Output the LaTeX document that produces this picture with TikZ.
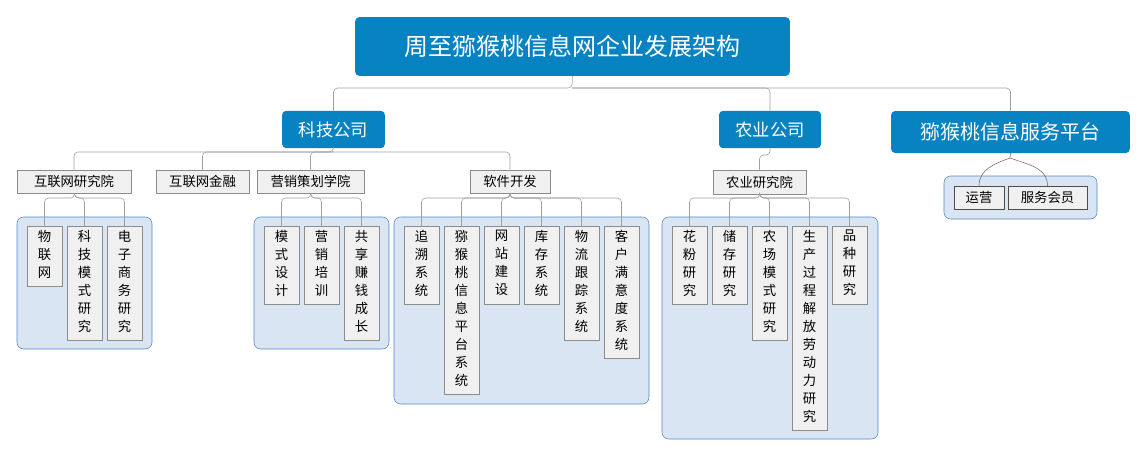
\documentclass[tikz,border=0pt]{standalone}
\usepackage{fontspec}
\setmainfont{Noto Sans CJK SC}
\begin{document}
\begin{tikzpicture}[x=0.75pt,y=-0.75pt,
 top/.style={fill=topblue,text=white,rounded corners=3pt,inner sep=0pt},
 mid/.style={fill=white!94!black,draw=gray!90,inner sep=0pt,font=\fontsize{10}{12}\selectfont},
 leaf/.style={fill=white!94!black,draw=gray!90,anchor=north,minimum width=26.25pt,inner sep=0pt},
 lbl/.style={anchor=north,inner sep=0pt,yshift=-3pt,align=center,font=\fontsize{10}{13.5}\selectfont},
 grp/.style={fill=grpfill,draw=grpline,rounded corners=5pt},
 con/.style={draw=gray!75,rounded corners=3pt}]
\definecolor{topblue}{HTML}{0883C1}
\definecolor{grpfill}{HTML}{DAE5F3}
\definecolor{grpline}{HTML}{4F85C6}
\useasboundingbox (0,0) rectangle (1147,457);
% top nodes
\node[top,minimum width=326pt,minimum height=44pt,font=\fontsize{18}{20}\selectfont] (root) at (572.5,46.5) {周至猕猴桃信息网企业发展架构};
\node[top,minimum width=77pt,minimum height=28pt,font=\fontsize{13}{15}\selectfont] (kj) at (333.5,129.5) {科技公司};
\node[top,minimum width=76.5pt,minimum height=28pt,font=\fontsize{13}{15}\selectfont] (ny) at (770,129.5) {农业公司};
\node[top,minimum width=179pt,minimum height=31.5pt,font=\fontsize{15}{17}\selectfont] (pt) at (1010.5,132) {猕猴桃信息服务平台};
\draw[con] (root.south) -- (572,88) -| (kj.north);
\draw[con] (572,88) -| (ny.north);
\draw[con] (572,88) -| (pt.north);
% groups
\node[grp,minimum width=101.25pt,minimum height=99pt] (g1) at (84.5,283) {};
\node[grp,minimum width=101.25pt,minimum height=99pt] (g2) at (321.5,283) {};
\node[grp,minimum width=191.25pt,minimum height=140.25pt] (g3) at (521.5,310.5) {};
\node[grp,minimum width=162pt,minimum height=166.5pt] (g4) at (770,328) {};
\node[grp,minimum width=114.75pt,minimum height=32.25pt] (g5) at (1020.5,197.5) {};
% mid nodes
\node[mid,minimum width=85.5pt,minimum height=17.25pt] (m1) at (74,181.5) {互联网研究院};
\node[mid,minimum width=69.75pt,minimum height=17.25pt] (m2) at (202.5,181.5) {互联网金融};
\node[mid,minimum width=80.25pt,minimum height=17.25pt] (m3) at (310.5,181.5) {营销策划学院};
\node[mid,minimum width=60pt,minimum height=17.25pt] (m4) at (510,181.5) {软件开发};
\node[mid,minimum width=69.75pt,minimum height=18pt] (m5) at (759.5,182) {农业研究院};
\node[mid,draw=black!70,minimum width=37.5pt,minimum height=17.25pt] (s1) at (979,197.5) {运营};
\node[mid,draw=black!70,minimum width=59.25pt,minimum height=17.25pt] (s2) at (1047.5,197.5) {服务会员};
\draw[con] (kj.south) -- (333,152) -| (m1.north);
\draw[con] (333,152) -| (m2.north);
\draw[con] (333,152) -| (m3.north);
\draw[con] (333,152) -| (m4.north);
\draw[con] (ny.south) -- (770,155) -| (m5.north);
\draw[draw=black!60] (pt.south) -- (1010,158) to[out=200,in=90] (s1.north);
\draw[draw=black!60] (1010,158) to[out=-20,in=90] (s2.north);
% leaves
\node[leaf,minimum height=45pt,label={[lbl]north:物\\联\\网}] (a1) at (44.5,226) {};
\node[leaf,minimum height=85.5pt,label={[lbl]north:科\\技\\模\\式\\研\\究}] (a2) at (84.5,226) {};
\node[leaf,minimum height=85.5pt,label={[lbl]north:电\\子\\商\\务\\研\\究}] (a3) at (124.5,226) {};
\node[leaf,minimum height=58.5pt,label={[lbl]north:模\\式\\设\\计}] (b1) at (281.5,226) {};
\node[leaf,minimum height=58.5pt,label={[lbl]north:营\\销\\培\\训}] (b2) at (321.5,226) {};
\node[leaf,minimum height=85.5pt,label={[lbl]north:共\\享\\赚\\钱\\成\\长}] (b3) at (361.5,226) {};
\node[leaf,minimum height=58.5pt,label={[lbl]north:追\\溯\\系\\统}] (c1) at (421.5,226) {};
\node[leaf,minimum height=126pt,label={[lbl]north:猕\\猴\\桃\\信\\息\\平\\台\\系\\统}] (c2) at (461.5,226) {};
\node[leaf,minimum height=58.5pt,label={[lbl]north:网\\站\\建\\设}] (c3) at (501.5,226) {};
\node[leaf,minimum height=58.5pt,label={[lbl]north:库\\存\\系\\统}] (c4) at (541.5,226) {};
\node[leaf,minimum height=85.5pt,label={[lbl]north:物\\流\\跟\\踪\\系\\统}] (c5) at (581.5,226) {};
\node[leaf,minimum height=99pt,label={[lbl]north:客\\户\\满\\意\\度\\系\\统}] (c6) at (621.5,226) {};
\node[leaf,minimum height=58.5pt,label={[lbl]north:花\\粉\\研\\究}] (d1) at (689.5,226) {};
\node[leaf,minimum height=58.5pt,label={[lbl]north:储\\存\\研\\究}] (d2) at (729.5,226) {};
\node[leaf,minimum height=85.5pt,label={[lbl]north:农\\场\\模\\式\\研\\究}] (d3) at (769.5,226) {};
\node[leaf,minimum height=153pt,label={[lbl]north:生\\产\\过\\程\\解\\放\\劳\\动\\力\\研\\究}] (d4) at (809.5,226) {};
\node[leaf,minimum height=58.5pt,label={[lbl]north:品\\种\\研\\究}] (d5) at (849.5,226) {};
\foreach \l in {a1,a2,a3} \draw[con] (m1.south) -- (75,198) -| (\l.north);
\foreach \l in {b1,b2,b3} \draw[con] (m3.south) -- (311,198) -| (\l.north);
\foreach \l in {c1,c2,c3,c4,c5,c6} \draw[con] (m4.south) -- (510,198) -| (\l.north);
\foreach \l in {d1,d2,d3,d4,d5} \draw[con] (m5.south) -- (760,198) -| (\l.north);
\end{tikzpicture}
\end{document}
